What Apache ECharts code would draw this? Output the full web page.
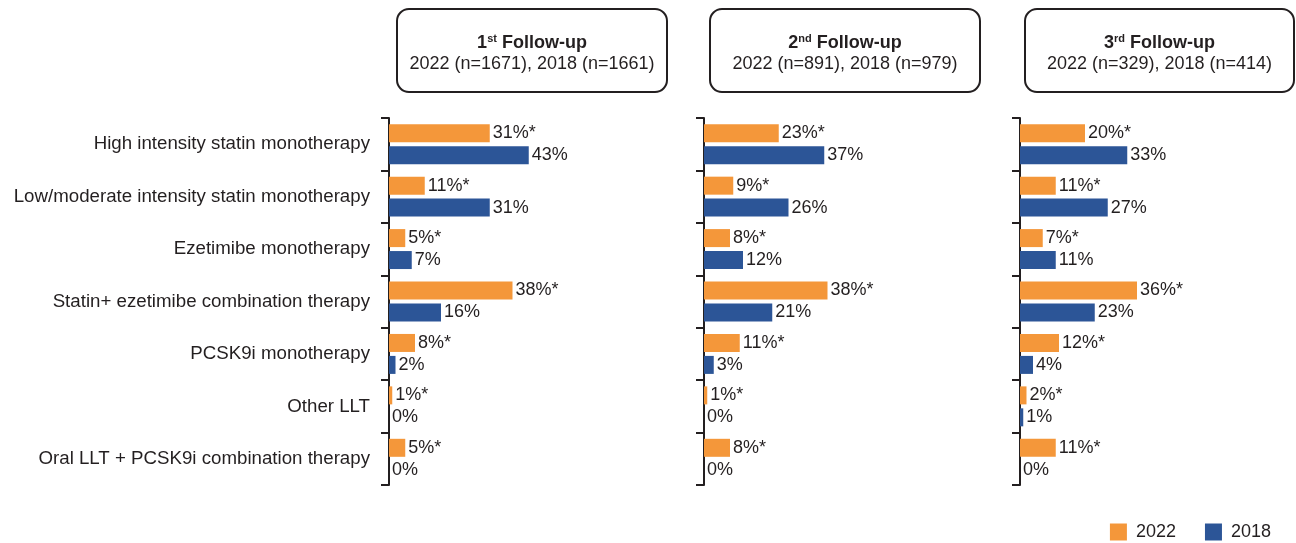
<!DOCTYPE html>
<html>
<head>
<meta charset="utf-8">
<script src="https://cdn.jsdelivr.net/npm/echarts@6/dist/echarts.min.js"></script>
<style>
  html, body { margin: 0; padding: 0; background: #fff; }
  #chart { width: 1296px; height: 543px; }
</style>
</head>
<body>
<div id="chart"></div>
<script>
// categories, top to bottom
var categories = [
  'High intensity statin monotherapy',
  'Low/moderate intensity statin monotherapy',
  'Ezetimibe monotherapy',
  'Statin+ ezetimibe combination therapy',
  'PCSK9i monotherapy',
  'Other LLT',
  'Oral LLT + PCSK9i combination therapy'
];

// values in %
var fu1_2022 = [31, 11, 5, 38, 8, 1, 5];
var fu1_2018 = [43, 31, 7, 16, 2, 0, 0];
var fu2_2022 = [23, 9, 8, 38, 11, 1, 8];
var fu2_2018 = [37, 26, 12, 21, 3, 0, 0];
var fu3_2022 = [20, 11, 7, 36, 12, 2, 11];
var fu3_2018 = [33, 27, 11, 23, 4, 1, 0];

var panelTitles = [
  { ord: '1', sup: 'st', n: '2022 (n=1671), 2018 (n=1661)' },
  { ord: '2', sup: 'nd', n: '2022 (n=891), 2018 (n=979)' },
  { ord: '3', sup: 'rd', n: '2022 (n=329), 2018 (n=414)' }
];

var ORANGE = '#f4973a';
var BLUE = '#2c5597';
var INK = '#231f20';
var FONT = 'Liberation Sans, Arial, sans-serif';

var gridLefts = [389, 704, 1020];
var boxes = [[397, 667], [710, 980], [1025, 1294]];

var grids = [], xAxes = [], yAxes = [], series = [];
var data2022 = [fu1_2022, fu2_2022, fu3_2022];
var data2018 = [fu1_2018, fu2_2018, fu3_2018];

for (var i = 0; i < 3; i++) {
  grids.push({ left: gridLefts[i], top: 118, width: 195, height: 367 });
  xAxes.push({ gridIndex: i, type: 'value', min: 0, max: 60, show: false });
  yAxes.push({
    gridIndex: i,
    type: 'category',
    inverse: true,
    data: categories,
    axisLine: { show: true, lineStyle: { color: INK, width: 2 } },
    axisTick: { show: true, interval: 0, length: 8, lineStyle: { color: INK, width: 2 } },
    axisLabel: {
      show: i === 0,
      interval: 0,
      color: INK,
      fontSize: 18.7,
      fontFamily: FONT,
      margin: 19
    }
  });
  series.push({
    name: '2022',
    type: 'bar',
    xAxisIndex: i,
    yAxisIndex: i,
    data: data2022[i],
    barWidth: 18,
    barGap: '22%',
    itemStyle: { color: ORANGE },
    label: {
      show: true, position: 'right', distance: 3,
      color: INK, fontSize: 18, fontFamily: FONT,
      formatter: '{c}%*'
    }
  });
  series.push({
    name: '2018',
    type: 'bar',
    xAxisIndex: i,
    yAxisIndex: i,
    data: data2018[i],
    barWidth: 18,
    barGap: '22%',
    itemStyle: { color: BLUE },
    label: {
      show: true, position: 'right', distance: 3,
      color: INK, fontSize: 18, fontFamily: FONT,
      formatter: '{c}%'
    }
  });
}

var graphics = [];
boxes.forEach(function (b, i) {
  var cx = (b[0] + b[1]) / 2;
  graphics.push({
    type: 'rect',
    shape: { x: b[0], y: 9, width: b[1] - b[0], height: 83, r: 12 },
    style: { fill: '#fff', stroke: INK, lineWidth: 2 }
  });
  graphics.push({
    type: 'text',
    x: cx, y: 43,
    style: {
      text: '{b|' + panelTitles[i].ord + '}{s|' + panelTitles[i].sup + '}{b| Follow-up}',
      align: 'center', verticalAlign: 'middle',
      fill: INK, font: 'bold 18px ' + FONT,
      rich: {
        b: { fontSize: 18, fontWeight: 'bold', fontFamily: FONT, fill: INK },
        s: { fontSize: 11, fontWeight: 'bold', fontFamily: FONT, fill: INK, verticalAlign: 'top', padding: [0, 0, 8, 0] }
      }
    }
  });
  graphics.push({
    type: 'text',
    x: cx, y: 64,
    style: {
      text: panelTitles[i].n,
      align: 'center', verticalAlign: 'middle',
      fill: INK, font: '18px ' + FONT
    }
  });
});

var chart = echarts.init(document.getElementById('chart'));
chart.setOption({
  animation: false,
  legend: {
    data: ['2022', '2018'],
    right: 20,
    bottom: -3,
    icon: 'rect',
    itemWidth: 17,
    itemHeight: 17,
    itemGap: 29,
    textStyle: { color: INK, fontSize: 18, fontFamily: FONT, padding: [0, 0, 0, 4] }
  },
  grid: grids,
  xAxis: xAxes,
  yAxis: yAxes,
  series: series,
  graphic: graphics
});
</script>
</body>
</html>
